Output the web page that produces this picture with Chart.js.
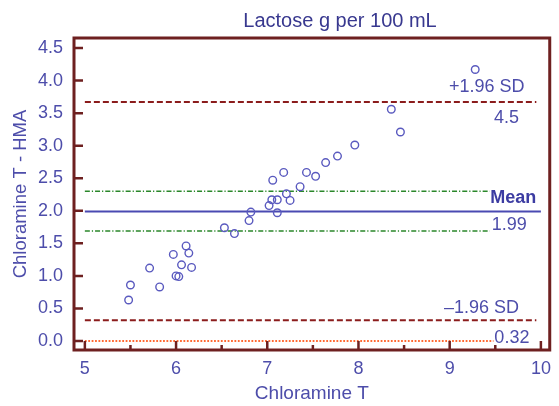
<!DOCTYPE html>
<html>
<head>
<meta charset="utf-8">
<script src="https://cdn.jsdelivr.net/npm/chart.js@4/dist/chart.umd.min.js"></script>
<style>
    body { margin: 0; background: #fff; }
    #wrap { width: 559px; height: 406px; }
</style>
</head>
<body>
<div id="wrap"><canvas id="chart" width="559" height="406"></canvas></div>
<script>
const chartTitle = "Lactose g per 100 mL";
const xTitle = "Chloramine T";
const yTitle = "Chloramine T - HMA";

// mean of the two methods (x) and their difference (y)
const meanValues = [5.48, 5.50, 5.71, 5.82, 5.97, 6.00, 6.03, 6.06, 6.11, 6.14, 6.17,
    6.53, 6.64, 6.80, 6.82, 7.02, 7.05, 7.06, 7.11, 7.11, 7.18, 7.21, 7.25, 7.36,
    7.43, 7.53, 7.64, 7.77, 7.96, 8.36, 8.46, 9.28];
const diffValues = [0.63, 0.86, 1.12, 0.83, 1.33, 1.00, 0.99, 1.17, 1.46, 1.35, 1.13,
    1.74, 1.65, 1.85, 1.98, 2.08, 2.17, 2.47, 2.17, 1.97, 2.59, 2.26, 2.16, 2.37,
    2.59, 2.53, 2.74, 2.84, 3.01, 3.56, 3.21, 4.17];

const xTicks = [5, 6, 7, 8, 9, 10];
const xMinorTicks = [5.5, 6.5, 7.5, 8.5, 9.5];
const yTicks = [0, 0.5, 1, 1.5, 2, 2.5, 3, 3.5, 4, 4.5];

const meanDiff = 1.99;
const upperLimit = 3.67;
const lowerLimit = 0.32;
const meanCiHigh = 2.30;
const meanCiLow = 1.69;
const zeroLine = 0;

const lineStart = 5;
const meanEnd = 10;
const limitEnd = 9.95;
const ciEnd = 9.44;
const zeroEnd = 9.48;

const refLabels = ["+1.96 SD", "4.5", "Mean", "1.99", "\u20131.96 SD", "0.32"];

const FRAME = "#6e2020";
const TEXT = "#4d4daa";
const FONT = "'Liberation Sans', Arial, sans-serif";

function hLine(y, x1, x2) {
    return [{ x: x1, y: y }, { x: x2, y: y }];
}

const framePlugin = {
    id: "frame",
    afterDatasetsDraw(chart) {
        const { ctx, chartArea: a, scales: { x, y } } = chart;
        ctx.save();
        ctx.strokeStyle = FRAME;
        ctx.lineWidth = 2.5;
        ctx.lineCap = "butt";

        // tick marks point inward
        ctx.beginPath();
        xTicks.forEach(v => {
            const px = x.getPixelForValue(v);
            ctx.moveTo(px, a.bottom);
            ctx.lineTo(px, a.bottom - 9);
        });
        xMinorTicks.forEach(v => {
            const px = x.getPixelForValue(v);
            ctx.moveTo(px, a.bottom);
            ctx.lineTo(px, a.bottom - 5);
        });
        yTicks.forEach(v => {
            const py = y.getPixelForValue(v);
            ctx.moveTo(a.left, py);
            ctx.lineTo(a.left + 9, py);
        });
        ctx.stroke();

        ctx.lineWidth = 3;
        ctx.strokeRect(a.left, a.top, a.right - a.left, a.bottom - a.top);
        ctx.restore();
    },
    afterDraw(chart) {
        const { ctx, scales: { x, y } } = chart;
        ctx.save();
        ctx.textBaseline = "middle";

        ctx.fillStyle = "#38388f";
        ctx.font = "20px " + FONT;
        ctx.textAlign = "center";
        ctx.fillText(chartTitle, 340, 21);

        const put = (text, xv, yv, dy, align, bold) => {
            ctx.font = (bold ? "bold " : "") + "18px " + FONT;
            ctx.fillStyle = bold ? "#3c3ca2" : TEXT;
            ctx.textAlign = align;
            ctx.fillText(text, x.getPixelForValue(xv), y.getPixelForValue(yv) + dy);
        };
        put(refLabels[0], 9.82, upperLimit, -15, "right", false);
        put(refLabels[1], 9.76, upperLimit, 16, "right", false);
        put(refLabels[2], 9.95, meanDiff, -13, "right", true);
        put(refLabels[3], 9.46, meanDiff, 14, "left", false);
        put(refLabels[4], 9.76, lowerLimit, -12, "right", false);
        put(refLabels[5], 9.49, zeroLine, -3, "left", false);
        ctx.restore();
    }
};

const refLine = (data, color, width, dash) => ({
    type: "line",
    data: data,
    borderColor: color,
    borderWidth: width,
    borderDash: dash,
    pointRadius: 0,
    fill: false,
    order: 2
});

new Chart(document.getElementById("chart"), {
    type: "scatter",
    data: {
        datasets: [
            refLine(hLine(zeroLine, lineStart, zeroEnd), "#ff6a33", 2.2, [1.8, 1.6]),
            refLine(hLine(lowerLimit, lineStart, limitEnd), "#8b1c1c", 2, [6, 3]),
            refLine(hLine(upperLimit, lineStart, limitEnd), "#8b1c1c", 2, [6, 3]),
            refLine(hLine(meanCiLow, lineStart, ciEnd), "#2a872a", 1.5, [5, 2, 1.2, 2]),
            refLine(hLine(meanCiHigh, lineStart, ciEnd), "#2a872a", 1.5, [5, 2, 1.2, 2]),
            refLine(hLine(meanDiff, lineStart, meanEnd), "#4a4ab2", 2, []),
            {
                label: "Difference",
                data: meanValues.map((m, i) => ({ x: m, y: diffValues[i] })),
                pointStyle: "circle",
                pointRadius: 3.8,
                pointBorderWidth: 1.4,
                borderColor: "#5a5abf",
                backgroundColor: "rgba(255,255,255,0)",
                order: 1
            }
        ]
    },
    options: {
        responsive: false,
        animation: false,
        layout: { padding: { top: 38, right: 3, left: 0, bottom: 0 } },
        plugins: {
            legend: { display: false },
            tooltip: { enabled: false }
        },
        scales: {
            x: {
                type: "linear",
                min: 4.881,
                max: 10.097,
                afterBuildTicks: s => { s.ticks = xTicks.map(v => ({ value: v })); },
                afterFit: s => { s.height = 56; },
                grid: { display: false, drawTicks: false },
                border: { display: false },
                ticks: {
                    padding: 8,
                    color: TEXT,
                    font: { family: FONT, size: 18 }
                },
                title: {
                    display: true,
                    text: xTitle,
                    color: TEXT,
                    padding: { top: 0, bottom: 1 },
                    font: { family: FONT, size: 19 }
                }
            },
            y: {
                type: "linear",
                min: -0.138,
                max: 4.654,
                afterBuildTicks: s => { s.ticks = yTicks.map(v => ({ value: v })); },
                afterFit: s => { s.width = 74; },
                grid: { display: false, drawTicks: false },
                border: { display: false },
                ticks: {
                    padding: 11,
                    color: TEXT,
                    callback: v => v.toFixed(1),
                    font: { family: FONT, size: 18 }
                },
                title: {
                    display: true,
                    text: yTitle,
                    color: TEXT,
                    padding: { top: 10, bottom: 0 },
                    font: { family: FONT, size: 18.5 }
                }
            }
        }
    },
    plugins: [framePlugin]
});
</script>
</body>
</html>
